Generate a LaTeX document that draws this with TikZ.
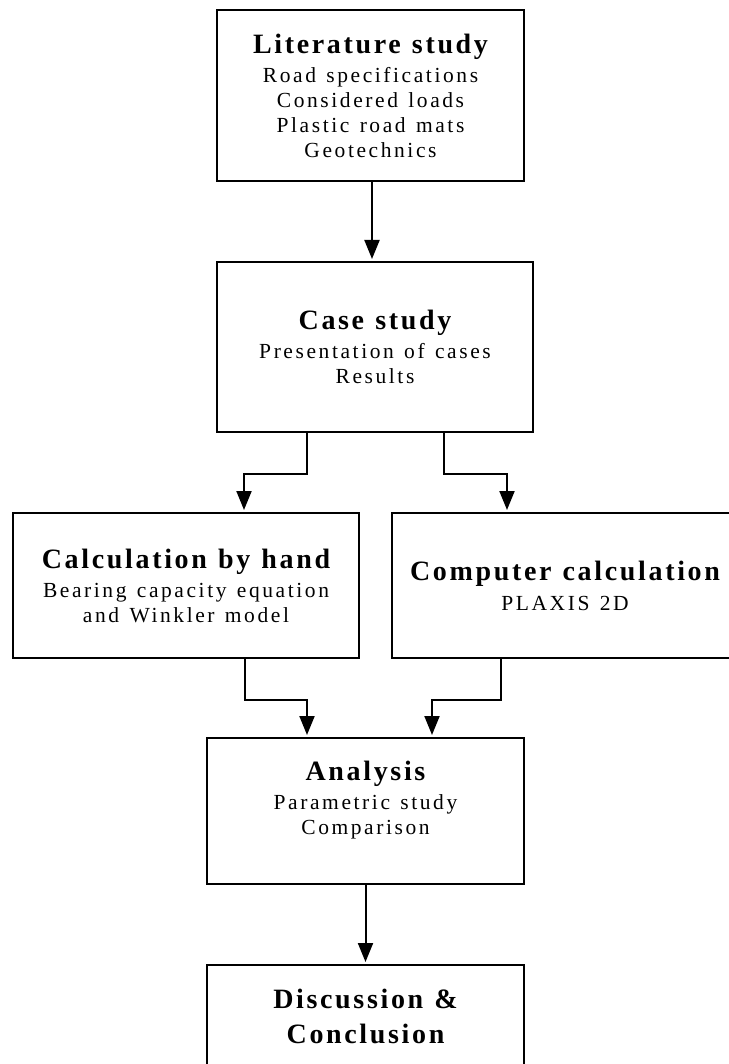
\documentclass[tikz,border=0pt]{standalone}
\usepackage{fontspec}
\setmainfont{Liberation Serif}
\newfontfamily\bodyfam[LetterSpace=12,WordSpace=1.3]{Liberation Serif}
\newfontfamily\titlefam[LetterSpace=9.5,WordSpace=1.15]{Liberation Serif}
\usetikzlibrary{arrows.meta}
\newcommand\ttl[1]{{\titlefam\bfseries\fontsize{28}{29}\selectfont #1}}
\begin{document}
\begin{tikzpicture}[x=1pt,y=-1pt,
  boxnode/.style={draw, line width=2pt, inner sep=0pt},
  txt/.style={align=center, font=\bodyfam\fontsize{21.5}{25}\selectfont, inner sep=0pt},
  arr/.style={line width=2pt, -{Triangle[length=19pt,width=15pt]}, shorten >=2pt}]
\useasboundingbox (0,0) rectangle (728,1064);
\node[boxnode, minimum width=307pt, minimum height=171pt] (b1) at (370.5,95.5) {};
\node[boxnode, minimum width=316pt, minimum height=170pt] (b2) at (375,347) {};
\node[boxnode, minimum width=346pt, minimum height=145pt] (b3) at (186,585.5) {};
\node[boxnode, minimum width=346pt, minimum height=145pt] (b4) at (565,585.5) {};
\node[boxnode, minimum width=317pt, minimum height=146pt] (b5) at (365.5,811) {};
\node[boxnode, minimum width=317pt, minimum height=146pt] (b6) at (365.5,1038) {};
\node[txt] (t1) at (b1.center) {\ttl{Literature study}\\[4pt] Road specifications\\ Considered loads\\ Plastic road mats\\ Geotechnics};
\node[txt] (t2) at (b2.center) {\ttl{Case study}\\[4pt] Presentation of cases\\ Results};
\node[txt] (t3) at (b3.center) {\ttl{Calculation by hand}\\[4pt] Bearing capacity equation\\ and Winkler model};
\node[txt] (t4) at (b4.center) {\ttl{Computer calculation}\\[5pt] PLAXIS 2D};
\node[txt] (t5) at ([yshift=11pt]b5.center) {\ttl{Analysis}\\[4pt] Parametric study\\ Comparison};
\node[txt] (t6) at ([yshift=22pt]b6.center) {\ttl{Discussion \&}\\[10pt]\ttl{Conclusion}};
\draw[arr] ([xshift=1.5pt]b1.south) -- ([xshift=1.5pt]b1.south |- b2.north);
\draw[arr] ([xshift=-68pt]b2.south) -- ++(0,41) -| ([xshift=58pt]b3.north);
\draw[arr] ([xshift=69pt]b2.south) -- ++(0,41) -| ([xshift=-58pt]b4.north);
\draw[arr] ([xshift=59pt]b3.south) -- ++(0,41) -| ([xshift=-58.5pt]b5.north);
\draw[arr] ([xshift=-64pt]b4.south) -- ++(0,41) -| ([xshift=66.5pt]b5.north);
\draw[arr] (b5.south) -- (b6.north);
\end{tikzpicture}
\end{document}
